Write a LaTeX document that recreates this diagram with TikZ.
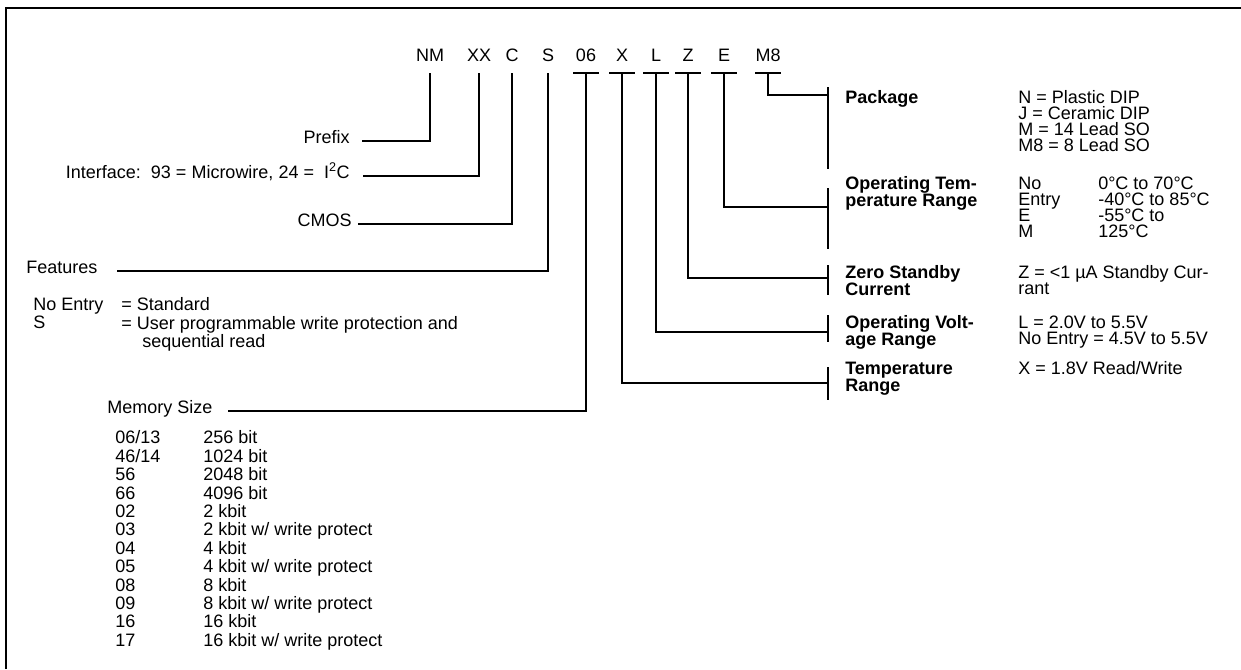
\documentclass[tikz,border=0pt]{standalone}
\usepackage{fontspec}
\setmainfont{Liberation Sans}
\newcommand\tightlines{\lineskiplimit=-20pt\relax}
\begin{document}
\begin{tikzpicture}[x=0.75pt,y=0.75pt,yscale=-1,xscale=1,
  code/.style={anchor=base,inner xsep=0pt,inner ysep=9pt,text depth=0pt,font=\fontsize{13.5}{12}\selectfont},
  lbl/.style={anchor=east,inner xsep=0pt,inner ysep=0pt,text height=9.75pt,text depth=6pt,font=\fontsize{13.5}{12}\selectfont},
  head/.style={anchor=north west,inner sep=0pt,align=left,font=\fontsize{13.5}{12.8}\selectfont\tightlines\bfseries},
  txt/.style={anchor=north west,inner sep=0pt,align=left,font=\fontsize{13.5}{12}\selectfont\tightlines},
  tbl/.style={anchor=north west,inner sep=0pt,align=left,font=\fontsize{13.5}{13.8}\selectfont\tightlines},
  wire/.style={line width=1.6pt}]
\useasboundingbox (0,0) rectangle (1241,669);

% frame
\draw [line width=2pt] (6,669) -- (6,8) -- (1241,8);

% part number
\node [code] (cnm) at (430,61) {NM};
\node [code] (cxx) at (479,61) {XX};
\node [code] (cc) at (512,61) {C};
\node [code] (cs) at (548,61) {S};
\node [code] (c06) at (586,61) {06};
\node [code] (cx) at (622,61) {X};
\node [code] (cl) at (656,61) {L};
\node [code] (cz) at (688,61) {Z};
\node [code] (ce) at (724,61) {E};
\node [code] (cm8) at (768,61) {M8};
\foreach \c in {c06,cx,cl,cz,ce,cm8}
  \draw [wire] ([xshift=-9.75pt]\c.south) -- ([xshift=9.75pt]\c.south);

% left side labels
\node [lbl] (prefix) at (350,141) {Prefix};
\node [lbl] (iface) at (350,176) {Interface:\ \ 93 = Microwire, 24 =\ \ I\textsuperscript{2}C};
\node [lbl] (cmos) at (352,224) {CMOS};
\node [lbl,anchor=west] (feat) at (26,271) {Features};
\node [tbl] (featkey) at (33,297.5) {No Entry\\S};
\node [tbl] (featval) at (121,297.5) {= Standard\\= User programmable write protection and\\\hspace*{15.75pt}sequential read};
\node [lbl,anchor=west] (memsize) at (107,411) {Memory Size};
\node [tbl] (memkey) at (115,430.5) {06/13\\46/14\\56\\66\\02\\03\\04\\05\\08\\09\\16\\17};
\node [tbl] (memval) at (203,430.5) {256 bit\\1024 bit\\2048 bit\\4096 bit\\2 kbit\\2 kbit w/ write protect\\4 kbit\\4 kbit w/ write protect\\8 kbit\\8 kbit w/ write protect\\16 kbit\\16 kbit w/ write protect};

% right side labels
\node [head] (pkg) at (845,90.5) {Package};
\node [txt] (pkgval) at (1018,90.5) {N = Plastic DIP\\J = Ceramic DIP\\M = 14 Lead SO\\M8 = 8 Lead SO};
\node [head] (optemp) at (845,176.5) {Operating Tem-\\perature Range};
\node [txt] (optempkey) at (1018,176.5) {No\\Entry\\E\\M};
\node [txt] (optempval) at (1098,176.5) {0°C to 70°C\\-40°C to 85°C\\-55°C to\\125°C};
\node [head] (zero) at (845,265.5) {Zero Standby\\Current};
\node [txt] (zeroval) at (1018,265.5) {Z = <1 µA Standby Cur-\\rant};
\node [head] (opvolt) at (845,315.5) {Operating Volt-\\age Range};
\node [txt] (opvoltval) at (1018,315.5) {L = 2.0V to 5.5V\\No Entry = 4.5V to 5.5V};
\node [head] (temprng) at (845,361.5) {Temperature\\Range};
\node [txt] (temprngval) at (1018,361.5) {X = 1.8V Read/Write};

\coordinate (jpkg) at (828,95);
\coordinate (jtmp) at (828,207);
\coordinate (jzero) at (828,278);
\coordinate (jvolt) at (828,332);
\coordinate (jtemp) at (828,383);

% ticks
\draw [wire] (828,87) -- (828,169);
\draw [wire] (828,188) -- (828,249);
\draw [wire] (828,265) -- (828,295);
\draw [wire] (828,315) -- (828,342);
\draw [wire] (828,367) -- (828,400);

% connectors
\draw [wire] (cnm.south) |- ([xshift=9pt]prefix.east);
\draw [wire] (cxx.south) |- ([xshift=9.75pt]iface.east);
\draw [wire] (cc.south) |- ([xshift=4.5pt]cmos.east);
\draw [wire] (cs.south) |- ([xshift=14.25pt]feat.east);
\draw [wire] (c06.south) |- ([xshift=11.25pt]memsize.east);
\draw [wire] (cx.south) |- (jtemp);
\draw [wire] (cl.south) |- (jvolt);
\draw [wire] (cz.south) |- (jzero);
\draw [wire] (ce.south) |- (jtmp);
\draw [wire] (cm8.south) |- (jpkg);

\end{tikzpicture}
\end{document}
